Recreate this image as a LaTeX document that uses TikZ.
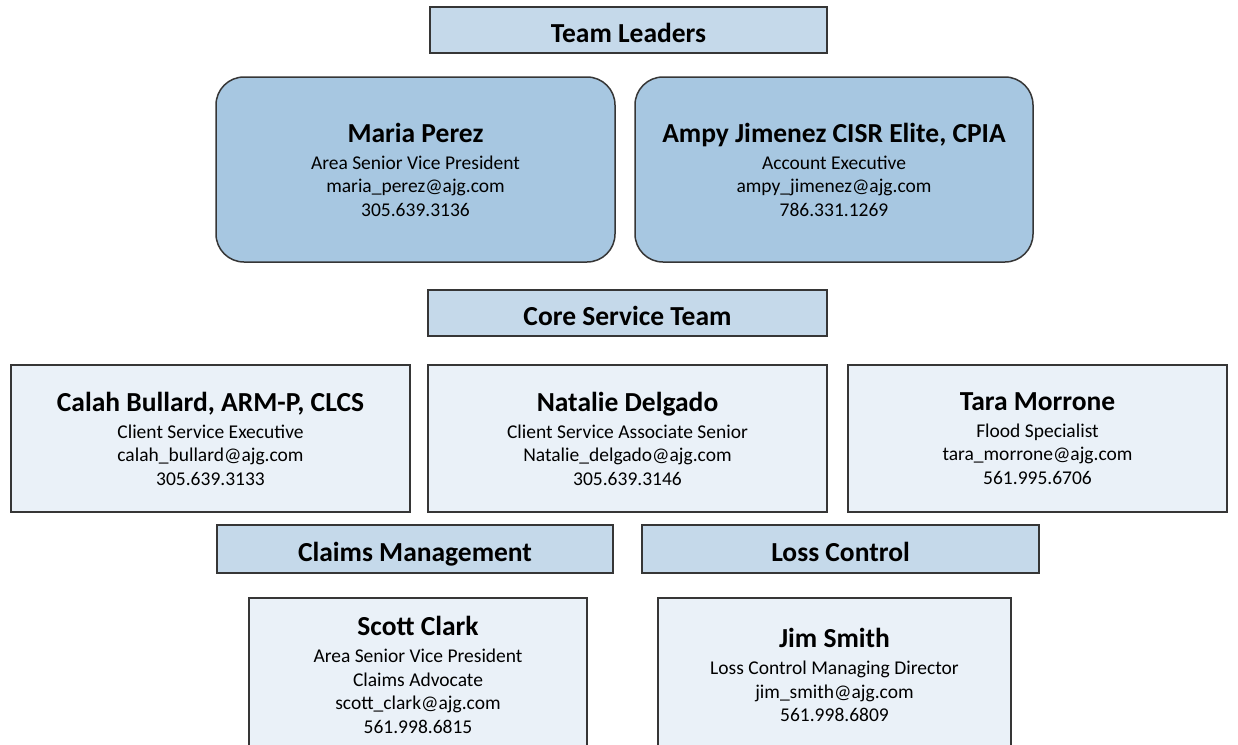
\documentclass[tikz,border=0pt]{standalone}
\usepackage{fontspec}
\setmainfont{Carlito}
\definecolor{headblue}{HTML}{C5D9EA}
\definecolor{leadblue}{HTML}{A7C7E1}
\definecolor{cardblue}{HTML}{EAF1F8}
\definecolor{edgegray}{HTML}{363636}
\begin{document}
\begin{tikzpicture}[x=1pt,y=-1pt,
    header/.style={draw=edgegray,line width=1.5pt,fill=headblue,inner sep=0pt,
        text height=24pt,text depth=0pt,
        font=\bfseries\fontsize{27.5}{30}\selectfont},
    leader/.style={draw=edgegray,line width=1.5pt,fill=leadblue,rounded corners=28pt,
        inner sep=0pt,align=center,font=\fontsize{19.5}{23.5}\selectfont},
    card/.style={draw=edgegray,line width=1.5pt,fill=cardblue,inner sep=0pt,
        align=center,font=\fontsize{19.5}{23.5}\selectfont}]
    \useasboundingbox (0,0) rectangle (1238,744);
    % section headings
    \node[header,minimum width=397pt,minimum height=46pt] (leaders) at (628.5,30) {Team Leaders};
    \node[header,minimum width=399pt,minimum height=46pt] (core) at (627.5,313) {Core Service Team};
    \node[header,minimum width=396pt,minimum height=48pt] (claims) at (415,549) {Claims Management};
    \node[header,minimum width=397pt,minimum height=48pt] (loss) at (840.5,549) {Loss Control};
    % team leaders
    \node[leader,minimum width=399pt,minimum height=185pt] (perez) at (415.5,169.5)
        {{\bfseries\fontsize{27.5}{27}\selectfont Maria Perez}\\[3.5pt]
         Area Senior Vice President\\ maria\_perez@ajg.com\\ 305.639.3136};
    \node[leader,minimum width=398pt,minimum height=185pt] (jimenez) at (834,169.5)
        {{\bfseries\fontsize{27.5}{27}\selectfont Ampy Jimenez CISR Elite, CPIA}\\[3.5pt]
         Account Executive\\ ampy\_jimenez@ajg.com\\ 786.331.1269};
    % core service team
    \node[card,minimum width=399pt,minimum height=147pt] (bullard) at (210.5,438.5)
        {{\bfseries\fontsize{27.5}{27}\selectfont Calah Bullard, ARM-P, CLCS}\\[3.5pt]
         Client Service Executive\\ calah\_bullard@ajg.com\\ 305.639.3133};
    \node[card,minimum width=399pt,minimum height=147pt] (delgado) at (627.5,438.5)
        {{\bfseries\fontsize{27.5}{27}\selectfont Natalie Delgado}\\[3.5pt]
         Client Service Associate Senior\\ Natalie\_delgado@ajg.com\\ 305.639.3146};
    \node[card,minimum width=379pt,minimum height=147pt] (morrone) at (1037.5,438.5)
        {{\bfseries\fontsize{27.5}{27}\selectfont Tara Morrone}\\[3.5pt]
         Flood Specialist\\ tara\_morrone@ajg.com\\ 561.995.6706};
    % claims and loss control
    \node[card,minimum width=338pt,minimum height=154pt] (clark) at (418,675)
        {{\bfseries\fontsize{27.5}{27}\selectfont Scott Clark}\\[3.5pt]
         Area Senior Vice President\\ Claims Advocate\\ scott\_clark@ajg.com\\ 561.998.6815};
    \node[card,minimum width=353pt,minimum height=154pt] (smith) at (834.5,675)
        {{\bfseries\fontsize{27.5}{27}\selectfont Jim Smith}\\[3.5pt]
         Loss Control Managing Director\\ jim\_smith@ajg.com\\ 561.998.6809};
\end{tikzpicture}
\end{document}
